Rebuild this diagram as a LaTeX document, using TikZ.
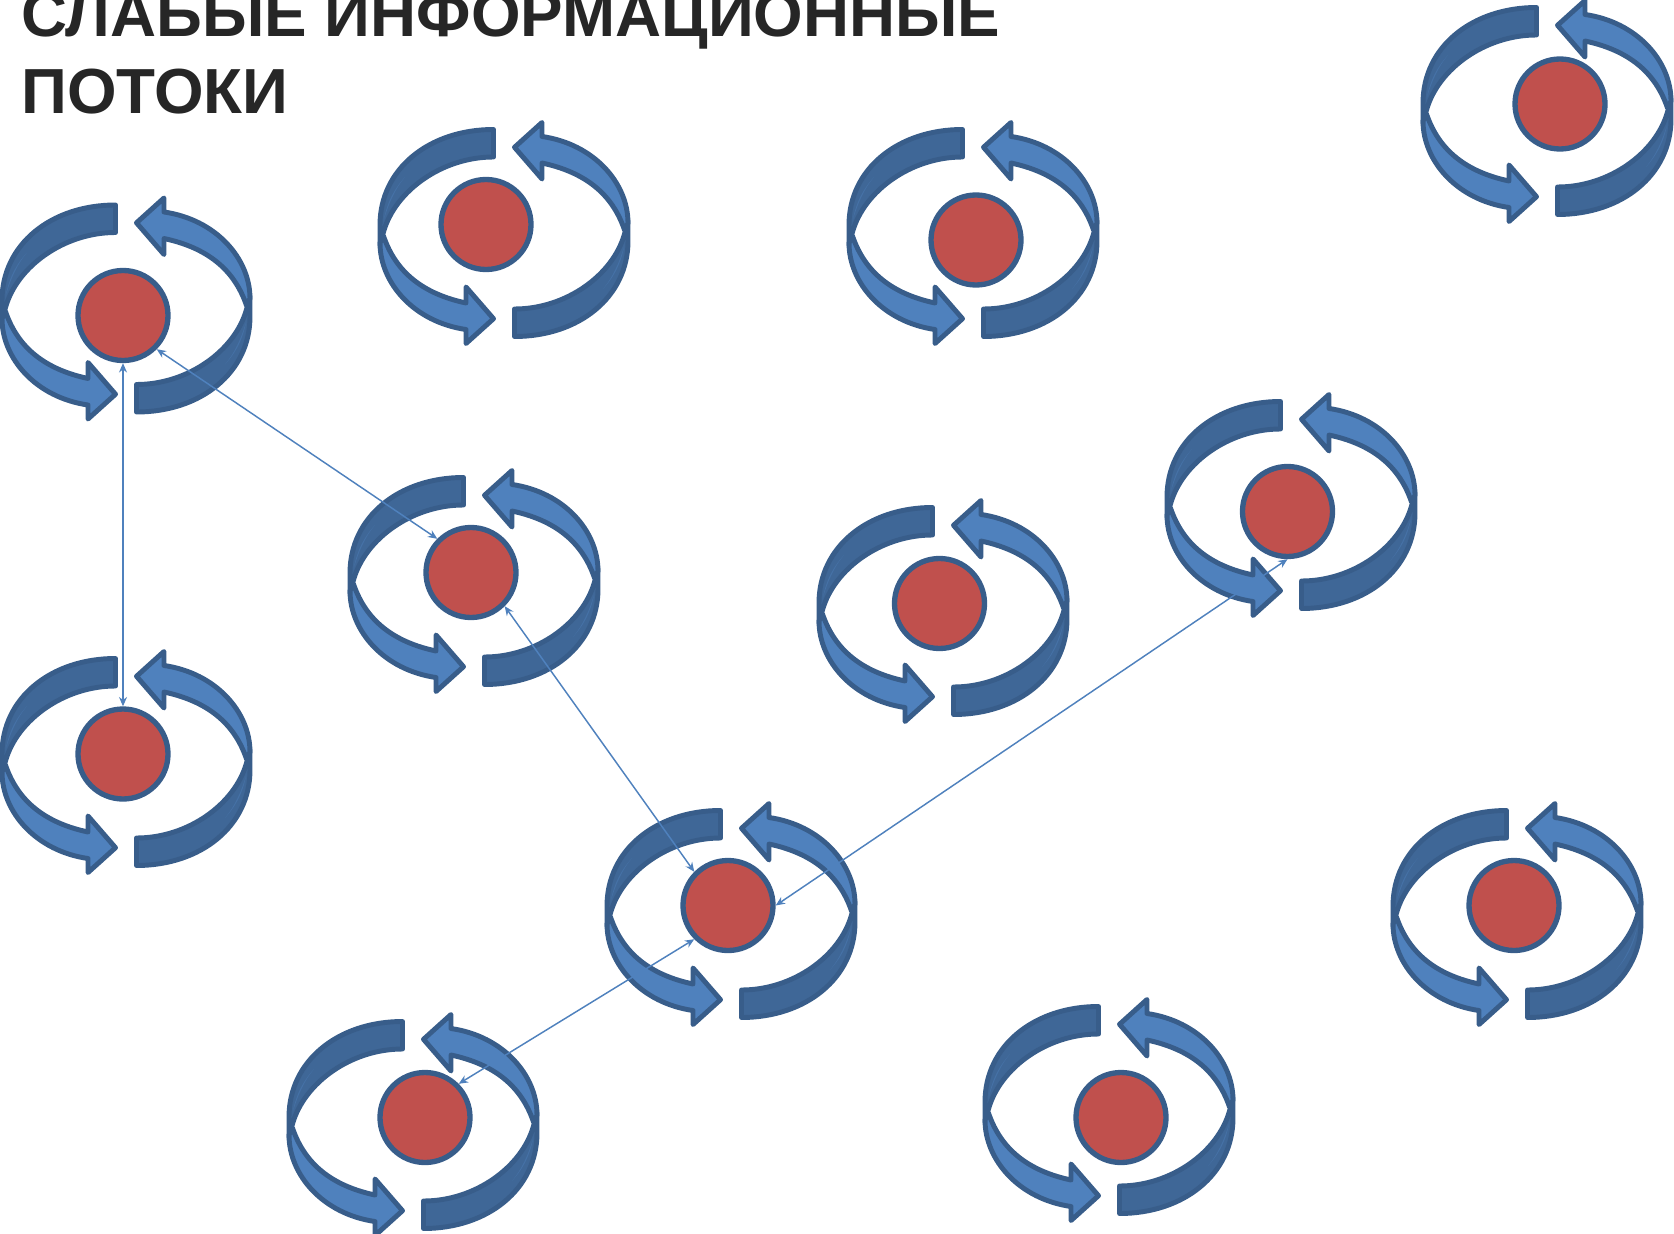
\documentclass[tikz,border=0pt]{standalone}
\usepackage{fontspec}
\usetikzlibrary{arrows.meta}
\setmainfont{Liberation Sans}
\definecolor{edgeblue}{HTML}{385D8A}
\definecolor{faceblue}{HTML}{4F81BD}
\definecolor{sideblue}{HTML}{3F6797}
\definecolor{discred}{HTML}{C0504D}
\definecolor{titleink}{HTML}{262626}
\tikzset{
  band/.style={draw=edgeblue,fill=sideblue,line width=3.7pt,line join=round},
  face/.style={draw=edgeblue,fill=faceblue,line width=3.7pt,line join=round},
  halfcycle/.pic={
    \path[band] (-10.5,-103.5) .. controls (-75,-103.5) and (-124,-64) .. (-124,-8)
      -- (-124,12) -- (-120.5,-1) .. controls (-109,-42) and (-62,-76) .. (-10.5,-76) -- cycle;
    \path[fill=faceblue,opacity=.4] (-120,-14) .. controls (-116,-34) and (-108,-46) .. (-99,-56)
      .. controls (-109,-44) and (-115,-30) .. (-120,-14) -- cycle;
    \path[face] (-120.5,3) .. controls (-108,40) and (-80,61) .. (-38,70) -- (-38,54)
      -- (-10.5,85.7) -- (-38,110.5) -- (-38,96.5) .. controls (-90,89) and (-124,50) .. (-124,10) -- cycle;
  },
  cycleglyph/.pic={
    \pic {halfcycle};
    \pic[rotate=180] {halfcycle};
  },
  disc/.style={circle,draw=edgeblue,fill=discred,line width=4pt,minimum size=67.5pt,inner sep=0pt},
  link/.style={draw=faceblue,line width=1.1pt,{Stealth[length=7pt,width=6pt]}-{Stealth[length=7pt,width=6pt]}},
  headline/.style={font=\fontsize{47.8pt}{57.75pt}\selectfont\bfseries,text=titleink,anchor=base west,inner sep=0pt},
}
\begin{document}
\begin{tikzpicture}[x=0.75pt,y=-0.75pt]
\useasboundingbox (0,0) rectangle (1674,1234);
\clip (0,0) rectangle (1674,1234);
\node[headline] (title1) at (21,37) {СЛАБЫЕ ИНФОРМАЦИОННЫЕ};
\node[headline] (title2) at (21,114) {ПОТОКИ};
\foreach \gx/\gy in {1547/111,504/233,973/233,126/308.5,1291/505,474/581,943/611,126/762,731/914,1517/914,413/1125,1109/1110}
  \pic at (\gx,\gy) {cycleglyph};
\node[disc] (c1) at (1560,104) {};
\node[disc] (c2) at (486,224.5) {};
\node[disc] (c3) at (976,240) {};
\node[disc] (c4) at (123,315.5) {};
\node[disc] (c5) at (1287.5,511.5) {};
\node[disc] (c6) at (471,572.5) {};
\node[disc] (c7) at (939.5,603.5) {};
\node[disc] (c8) at (123,754) {};
\node[disc] (c9) at (728,905.5) {};
\node[disc] (c10) at (1514,905.5) {};
\node[disc] (c11) at (425,1117.5) {};
\node[disc] (c12) at (1121,1117.5) {};
\draw[link] (c4.south) -- (c8.north);
\draw[link] (c4.south east) -- (c6.north west);
\draw[link] (c6.south east) -- (c9.north west);
\draw[link] (c9.east) -- (c5.south);
\draw[link] (c9.south west) -- (c11.north east);
\end{tikzpicture}
\end{document}
